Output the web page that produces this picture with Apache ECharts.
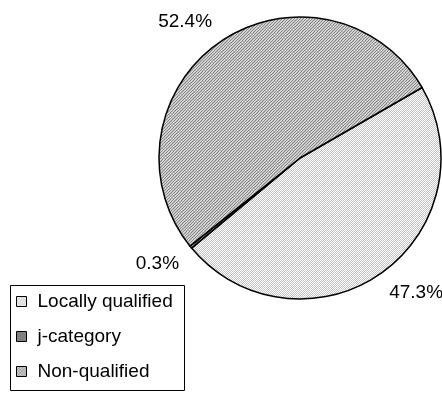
<!DOCTYPE html>
<html>
<head>
<meta charset="utf-8">
<script src="https://cdn.jsdelivr.net/npm/echarts@6/dist/echarts.min.js"></script>
<style>
  html, body { margin: 0; padding: 0; background: #ffffff; }
  #chart { width: 442px; height: 393px; }
</style>
</head>
<body>
<div id="chart"></div>
<script>
// Staff qualification shares (percent)
const categories = ['Locally qualified', 'j-category', 'Non-qualified'];
const shares = [47.3, 0.3, 52.4];

// Small repeating bitmap fills in the style of monochrome print hatching
function tile(w, h, paint) {
  const c = document.createElement('canvas');
  c.width = w; c.height = h;
  const ctx = c.getContext('2d');
  for (let y = 0; y < h; y++) {
    for (let x = 0; x < w; x++) {
      ctx.fillStyle = paint(x, y);
      ctx.fillRect(x, y, 1, 1);
    }
  }
  return { image: c, repeat: 'repeat' };
}

const fills = [
  tile(4, 4, (x, y) => ((x + y) % 2 === 0 ? '#ffffff' : '#c4c4c4')),
  tile(4, 4, (x, y) => ((x + y) % 2 === 0 ? '#5e5e5e' : '#a2a2a2')),
  tile(6, 6, (x, y) => ((x + y) % 3 === 0 ? '#8a8a8a' : ((x + y) % 2 === 0 ? '#c6c6c6' : '#d4d4d4')))
];

const CENTER = [300, 158];
const RADIUS = 141;
const START = 30;
const LABEL_GAP = 15;
const LABEL_H = 14;

const total = shares.reduce((a, b) => a + b, 0);
// mid-angle of each slice (degrees, counter-clockwise from 3 o'clock); slices run clockwise
const midAngles = [];
{
  let acc = 0;
  shares.forEach(v => {
    midAngles.push(START - (acc + v / 2) / total * 360);
    acc += v;
  });
}

const fontFamily = '"Liberation Sans", Arial, sans-serif';

const chart = echarts.init(document.getElementById('chart'), null, { renderer: 'canvas' });
chart.setOption({
  animation: false,
  backgroundColor: '#ffffff',
  // frame around the legend
  graphic: [{
    type: 'rect',
    silent: true,
    shape: { x: 10.5, y: 285.5, width: 174, height: 105 },
    style: { fill: 'none', stroke: '#000000', lineWidth: 1 }
  }],
  legend: {
    orient: 'vertical',
    left: 16,
    top: 292,
    padding: 0,
    itemWidth: 10,
    itemHeight: 10,
    itemGap: 16,
    icon: 'rect',
    itemStyle: { borderColor: '#000000', borderWidth: 1 },
    textStyle: { fontFamily, fontSize: 19, color: '#000000', padding: [0, 0, 0, 6], lineHeight: 19 },
    data: categories
  },
  series: [{
    type: 'pie',
    center: CENTER,
    radius: RADIUS,
    startAngle: START,
    clockwise: true,
    avoidLabelOverlap: false,
    silent: true,
    itemStyle: { borderColor: '#000000', borderWidth: 1.5 },
    label: {
      show: true,
      position: 'outside',
      fontFamily,
      fontSize: 19,
      color: '#000000',
      formatter: p => shares[p.dataIndex].toFixed(1) + '%'
    },
    labelLine: { show: false },
    // label box sits just outside the rim, pushed away on the side it faces
    labelLayout: p => {
      const a = midAngles[p.dataIndex] * Math.PI / 180;
      const cx = Math.cos(a), sy = -Math.sin(a);
      const d = RADIUS + LABEL_GAP;
      const w = p.labelRect.width;
      return {
        x: CENTER[0] + cx * d + Math.sign(cx) * w / 2,
        y: CENTER[1] + sy * d + Math.sign(sy) * LABEL_H / 2,
        align: 'center',
        verticalAlign: 'middle'
      };
    },
    data: categories.map((name, i) => ({
      name,
      value: shares[i],
      itemStyle: { color: fills[i] }
    }))
  }]
});
</script>
</body>
</html>
